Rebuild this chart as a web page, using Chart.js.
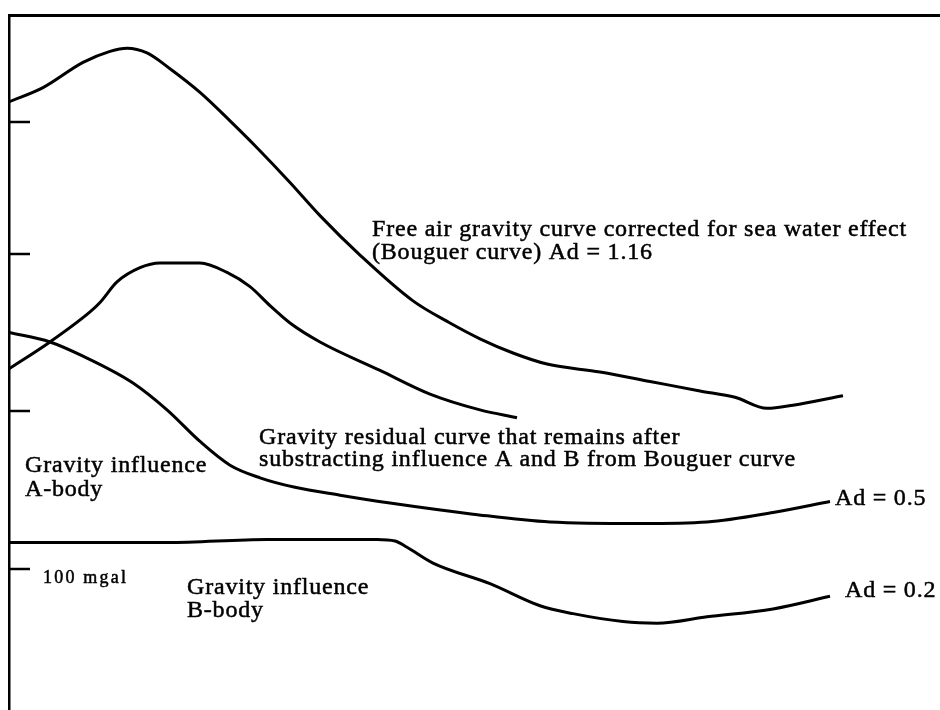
<!DOCTYPE html>
<html>
<head>
<meta charset="utf-8">
<script src="https://cdn.jsdelivr.net/npm/chart.js@4.4.0/dist/chart.umd.min.js"></script>
<style>
  html, body { margin: 0; padding: 0; background: #fff; }
  #wrap { width: 940px; height: 710px; }
</style>
</head>
<body>
<div id="wrap"><canvas id="chartGravity" width="940" height="710"></canvas></div>
<script>
// dati (x = distanza lungo il profilo, y = mgal)
const distBouguer = [0, 34, 74, 101, 118, 138, 161, 191, 221, 248, 281, 311, 351, 404, 441, 471, 504, 538, 591, 641, 691, 726, 758, 784, 834];
const mgalBouguer = [296, 305, 321, 328, 330, 327, 317, 302, 284, 267, 245, 224, 199, 170, 156, 146, 137, 130, 125, 119, 113, 109, 102, 104, 110];

const distResidual = [0, 41, 81, 91, 108, 131, 151, 191, 218, 241, 261, 281, 311, 371, 421, 471, 508];
const mgalResidual = [127, 144, 163, 169, 182, 191, 194, 194, 188, 179, 167, 156, 144, 126, 111, 101, 96];

const distBodyA = [0, 41, 74, 124, 158, 191, 221, 251, 286, 331, 381, 464, 541, 631, 698, 764, 821];
const mgalBodyA = [150, 144, 135, 118, 101, 81, 66, 58, 52, 47, 42, 35, 30, 29, 30, 36, 43];

const distBodyB = [0, 158, 258, 368, 386, 398, 424, 481, 531, 564, 614, 648, 698, 764, 821];
const mgalBodyB = [17, 17, 19, 19, 18, 14, 4, -9, -23, -28, -33, -34, -30, -25, -17];

// tacche asse y (mgal)
const yTicks = [0, 100, 200, 283];

// testi sul grafico (posizione in pixel)
const notes = [
  { text: 'Free air gravity curve corrected for sea water effect', x: 372, y: 236, size: 24 },
  { text: '(Bouguer curve) Ad = 1.16', x: 372, y: 259, size: 24 },
  { text: 'Gravity residual curve that remains after', x: 259, y: 444, size: 24 },
  { text: 'substracting influence A and B from Bouguer curve', x: 259, y: 466, size: 24 },
  { text: 'Gravity influence', x: 25, y: 472, size: 24 },
  { text: 'A-body', x: 25, y: 496, size: 24 },
  { text: '100 mgal', x: 43, y: 583, size: 18 },
  { text: 'Gravity influence', x: 187, y: 594, size: 24 },
  { text: 'B-body', x: 187, y: 617, size: 24 },
  { text: 'Ad = 0.5', x: 835, y: 505, size: 24 },
  { text: 'Ad = 0.2', x: 845, y: 597, size: 24 }
];

const toPoints = (xs, ys) => xs.map((x, i) => ({ x: x, y: ys[i] }));

const lineStyle = {
  borderColor: '#000',
  borderWidth: 3,
  pointRadius: 0,
  fill: false,
  cubicInterpolationMode: 'monotone'
};

// tacche verso l'interno
const tickInward = {
  id: 'tickInward',
  afterDraw(chart) {
    const { ctx, chartArea, scales } = chart;
    ctx.save();
    ctx.strokeStyle = '#000';
    ctx.lineWidth = 2.5;
    scales.y.ticks.forEach(t => {
      const py = Math.round(scales.y.getPixelForValue(t.value));
      ctx.beginPath();
      ctx.moveTo(chartArea.left, py);
      ctx.lineTo(chartArea.left + 21, py);
      ctx.stroke();
    });
    ctx.restore();
  }
};

const noteLabels = {
  id: 'noteLabels',
  afterDraw(chart) {
    const ctx = chart.ctx;
    ctx.save();
    ctx.fillStyle = '#000';
    ctx.strokeStyle = '#000';
    ctx.lineWidth = 0.5;
    ctx.textBaseline = 'alphabetic';
    ctx.textAlign = 'left';
    notes.forEach(n => {
      ctx.font = n.size + 'px "Liberation Serif"';
      ctx.letterSpacing = n.size < 20 ? '2.2px' : '0.8px';
      ctx.fillText(n.text, n.x, n.y);
      ctx.strokeText(n.text, n.x, n.y);
    });
    ctx.restore();
  }
};

const ctx = document.getElementById('chartGravity').getContext('2d');

const config = {
  type: 'line',
  data: {
    datasets: [
      { label: 'Bouguer', data: toPoints(distBouguer, mgalBouguer), ...lineStyle },
      { label: 'Residual', data: toPoints(distResidual, mgalResidual), ...lineStyle },
      { label: 'A-body', data: toPoints(distBodyA, mgalBodyA), ...lineStyle },
      { label: 'B-body', data: toPoints(distBodyB, mgalBodyB), ...lineStyle }
    ]
  },
  options: {
    responsive: false,
    animation: false,
    layout: { padding: { top: 15, left: 9, right: 0, bottom: 0 } },
    plugins: {
      legend: { display: false },
      tooltip: { enabled: false }
    },
    scales: {
      x: {
        type: 'linear',
        position: 'top',
        min: 0,
        max: 931,
        grid: { display: false, drawTicks: false },
        ticks: { display: false },
        border: { display: true, color: '#000', width: 3 }
      },
      y: {
        type: 'linear',
        min: -89,
        max: 351,
        afterBuildTicks: (axis) => { axis.ticks = yTicks.map(v => ({ value: v })); },
        grid: { display: false, drawTicks: false },
        ticks: { display: false },
        border: { display: true, color: '#000', width: 2.5 }
      }
    }
  },
  plugins: [tickInward, noteLabels]
};

const chartGravity = new Chart(ctx, config);
</script>
</body>
</html>
